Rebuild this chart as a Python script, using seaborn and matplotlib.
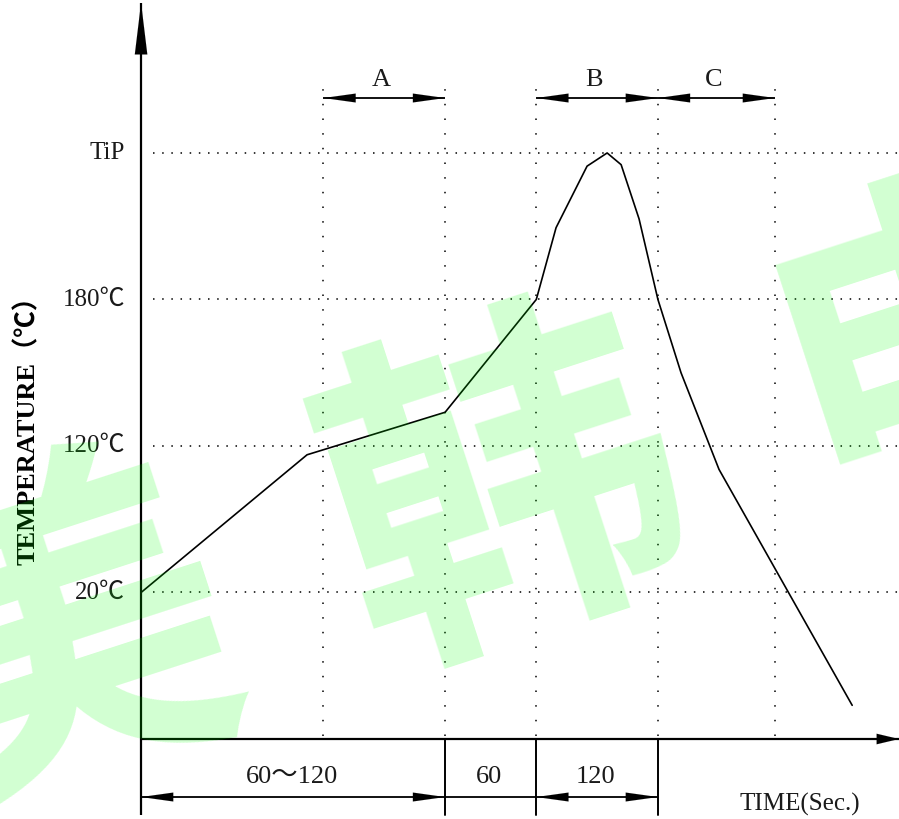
import numpy as np
import pandas as pd
import seaborn as sns
import matplotlib.pyplot as plt

# Profile curve: time (preheat end = 100) vs temperature level (20℃ = 1, 120℃ = 2, 180℃ = 3, TiP = 4)
time = [0, 54.6, 100, 130, 136.5, 146.7, 153.3, 157.9, 163.8, 170, 177.6, 190.1, 233.9]
level = [1.0, 1.94, 2.23, 3.0, 3.49, 3.91, 4.0, 3.92, 3.55, 3.0, 2.5, 1.84, 0.23]

# Temperature reference lines
temp_levels = [1, 2, 3, 4]
temp_labels = ["20℃", "120℃", "180℃", "TiP"]

# Phase boundaries on the time axis
phase_marks = [60, 100, 130, 170, 208.5]
top_spans = [("A", 60, 100), ("B", 130, 170), ("C", 170, 208.5)]
bottom_spans = [("60～120", 0, 100, True), ("60", 100, 130, False), ("120", 130, 170, True)]
watermark = ["美", "韩", "电"]

df = pd.DataFrame({"time": time, "level": level})

sns.set_style("white")
plt.rcParams["font.family"] = ["Liberation Serif", "Noto Sans CJK SC", "DejaVu Sans"]

fig = plt.figure(figsize=(8.99, 8.19), dpi=100)
ax = fig.add_axes([0, 0, 1, 1])
ax.set_xlim(-46.4, 249.3)
ax.set_ylim(-0.546, 5.044)

txt = "#1a1a1a"


def arrow(x0, y0, x1, y1, style, lw):
    # shaft drawn as a plain line, heads as filled patches so tips land exactly
    ax.plot([x0, x1], [y0, y1], color="black", lw=lw, solid_capstyle="butt")
    ax.annotate("", xy=(x1, y1), xytext=(x0, y0),
                arrowprops=dict(arrowstyle=style, mutation_scale=1, lw=0.05,
                                color="black", shrinkA=0, shrinkB=0))


# dotted guide lines
for lv in temp_levels:
    ax.plot([3.9, 249.3], [lv, lv], color="black", lw=1.1, ls=(0, (1, 5.0)))
for t in phase_marks:
    ax.plot([t, t], [0.02, 4.51], color="black", lw=1.1, ls=(0, (1, 8.6)))

# the profile
sns.lineplot(data=df, x="time", y="level", ax=ax, color="black", lw=1.2,
             sort=False, estimator=None)
ax.axis("off")

# axes with arrows
arrow(0, -0.52, 0, 5.025, "-|>,head_length=37,head_width=4.5", 1.6)
arrow(0, 0, 249.3, 0, "-|>,head_length=16,head_width=3.8", 1.6)

# extension lines under the time axis
for t in [100, 130, 170]:
    ax.plot([t, t], [0, -0.52], color="black", lw=1.4)

# top dimension arrows
for name, a, b in top_spans:
    arrow(a, 4.375, b, 4.375, "<|-|>,head_length=23,head_width=3.2", 1.3)
    ax.text((a + b) / 2 - 1, 4.5, name, ha="center", va="center",
            fontsize=19, color=txt)

# bottom dimension arrows
for name, a, b, arrows in bottom_spans:
    style = "<|-|>,head_length=23,head_width=3.2" if arrows else "-"
    arrow(a, -0.396, b, -0.396, style, 1.3)
    ax.text((a + b) / 2 - 0.5, -0.26, name, ha="center", va="center",
            fontsize=19, color=txt)

ax.text(216.8, -0.444, "TIME(Sec.)", ha="center", va="center",
        fontsize=18, color=txt)

# temperature labels
for lv, lab in zip(temp_levels, temp_labels):
    ax.text(-5.3, lv, lab, ha="right", va="center", fontsize=18, color=txt)

ax.text(-37.5, 2.15, "TEMPERATURE（℃）", rotation=90, ha="center", va="center",
        fontsize=19, fontweight="bold", color="black")

# watermark
W, H = 899, 819
centers = [(58, 650), (507, 502), (950, 350)]
for ch, (px, py) in zip(watermark, centers):
    fig.text(px / W, 1 - py / H, ch, ha="center", va="center", rotation=18,
             fontsize=255, fontweight="bold", family="Noto Sans CJK SC",
             color=(0, 1, 0), alpha=0.18, zorder=10)

fig.savefig("out.png", dpi=100)
